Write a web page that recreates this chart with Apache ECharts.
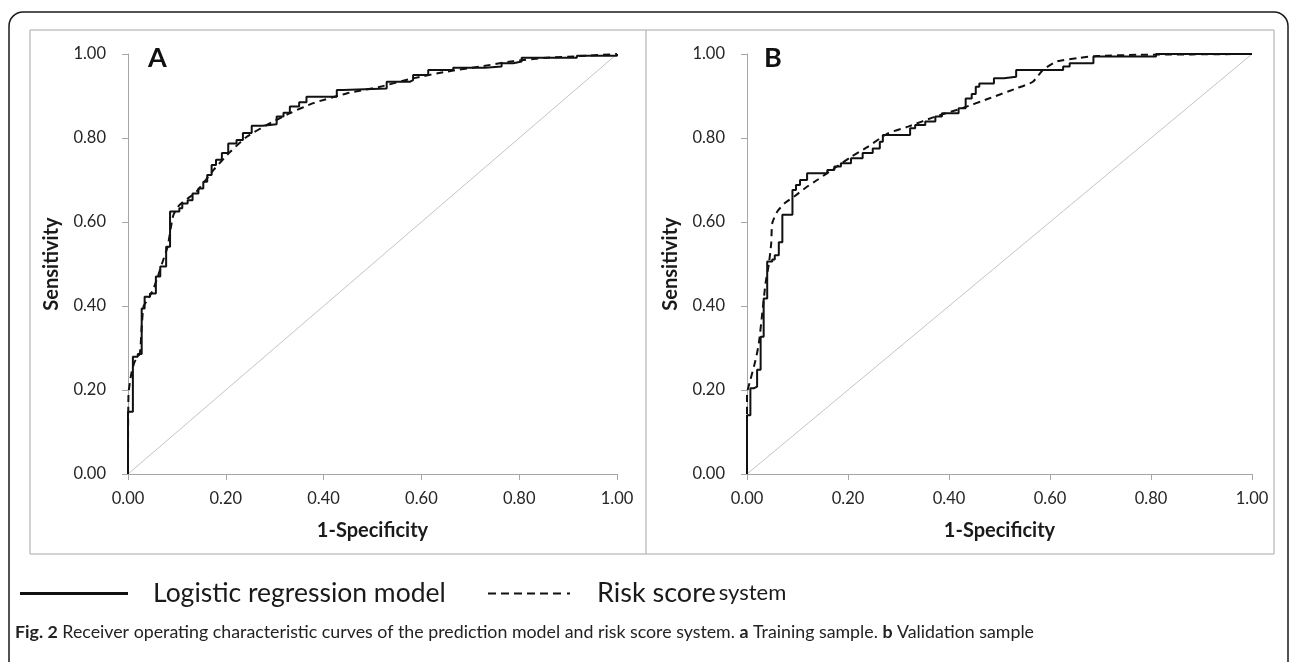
<!DOCTYPE html>
<html lang="en">
<head>
<meta charset="UTF-8">
<title>ROC curves</title>
<style>
    html, body { margin: 0; padding: 0; background: #ffffff; }
    #chart { width: 1295px; height: 662px; }
</style>
</head>
<body>
<div id="chart"></div>
<script src="https://cdn.jsdelivr.net/npm/echarts@6/dist/echarts.min.js"></script>
<script>
    // tick labels for both axes
    var tickLabels = ['0.00', '0.20', '0.40', '0.60', '0.80', '1.00'];

    // panel A (training sample) - logistic regression model, step curve
    var aLogX = [0, 0, 0.010, 0.020, 0.028, 0.034, 0.045, 0.057, 0.066, 0.078, 0.086, 0.105, 0.111, 0.122, 0.132, 0.144, 0.154, 0.162, 0.171, 0.180, 0.192, 0.205, 0.222, 0.235, 0.253, 0.275, 0.304, 0.318, 0.331, 0.350, 0.365, 0.427, 0.440, 0.529, 0.577, 0.583, 0.614, 0.665, 0.730, 0.764, 0.788, 0.805, 0.918, 1.0];
    var aLogY = [0, 0.148, 0.279, 0.286, 0.394, 0.422, 0.430, 0.470, 0.494, 0.541, 0.625, 0.633, 0.644, 0.652, 0.668, 0.680, 0.696, 0.712, 0.736, 0.748, 0.764, 0.787, 0.795, 0.812, 0.829, 0.833, 0.851, 0.860, 0.875, 0.885, 0.898, 0.914, 0.918, 0.934, 0.938, 0.950, 0.962, 0.967, 0.970, 0.978, 0.982, 0.991, 0.996, 1.0];
    // panel A - risk score system
    var aRiskX = [0, 0.001, 0.007, 0.0135, 0.024, 0.028, 0.032, 0.040, 0.051, 0.061, 0.071, 0.081, 0.088, 0.093, 0.105, 0.122, 0.140, 0.175, 0.209, 0.243, 0.284, 0.331, 0.379, 0.447, 0.515, 0.583, 0.652, 0.720, 0.788, 0.856, 0.924, 1.0];
    var aRiskY = [0, 0.19, 0.24, 0.267, 0.287, 0.35, 0.40, 0.414, 0.438, 0.47, 0.506, 0.541, 0.589, 0.617, 0.64, 0.656, 0.672, 0.724, 0.767, 0.803, 0.831, 0.859, 0.883, 0.906, 0.922, 0.942, 0.958, 0.970, 0.983, 0.991, 0.995, 1.0];

    // panel B (validation sample) - logistic regression model
    var bLogX = [0, 0, 0.0067, 0.0133, 0.020, 0.027, 0.033, 0.040, 0.050, 0.055, 0.063, 0.070, 0.090, 0.097, 0.105, 0.119, 0.159, 0.173, 0.186, 0.206, 0.229, 0.249, 0.263, 0.269, 0.323, 0.333, 0.353, 0.373, 0.386, 0.419, 0.433, 0.445, 0.453, 0.460, 0.489, 0.509, 0.533, 0.626, 0.639, 0.686, 0.810, 1.0];
    var bLogY = [0, 0.140, 0.204, 0.208, 0.248, 0.327, 0.418, 0.506, 0.511, 0.521, 0.552, 0.617, 0.676, 0.688, 0.700, 0.716, 0.724, 0.732, 0.740, 0.752, 0.764, 0.775, 0.791, 0.807, 0.823, 0.831, 0.839, 0.851, 0.859, 0.871, 0.894, 0.905, 0.922, 0.930, 0.942, 0.946, 0.962, 0.970, 0.978, 0.994, 1.0, 1.0];
    // panel B - risk score system
    var bRiskX = [0, 0, 0.0067, 0.0167, 0.0233, 0.030, 0.0367, 0.0433, 0.048, 0.050, 0.060, 0.075, 0.095, 0.120, 0.139, 0.173, 0.206, 0.239, 0.279, 0.319, 0.373, 0.426, 0.479, 0.533, 0.566, 0.586, 0.613, 0.659, 0.693, 0.773, 1.0];
    var bRiskY = [0, 0.19, 0.224, 0.27, 0.31, 0.38, 0.454, 0.50, 0.55, 0.597, 0.625, 0.645, 0.662, 0.685, 0.70, 0.728, 0.755, 0.779, 0.811, 0.827, 0.851, 0.871, 0.894, 0.918, 0.934, 0.962, 0.982, 0.991, 0.995, 0.998, 1.0];

    // chance line
    var diagX = [0, 1];
    var diagY = [0, 1];

    function pairs(xs, ys) {
        var out = [];
        for (var i = 0; i < xs.length; i++) out.push([xs[i], ys[i]]);
        return out;
    }

    var font = 'Lato';
    var axisGray = '#a6a6a6';

    function tickText(v) { return tickLabels[Math.round(v / 0.2)]; }

    function xAxisFor(idx) {
        return {
            type: 'value', gridIndex: idx, min: 0, max: 1, interval: 0.2,
            name: '1-Specificity', nameLocation: 'middle', nameGap: 47,
            nameTextStyle: { fontSize: 20, fontWeight: 'bold', fontFamily: font, color: '#1a1a1a' },
            axisLine: { show: true, lineStyle: { color: axisGray, width: 1 } },
            axisTick: { show: true, length: 6, lineStyle: { color: axisGray } },
            splitLine: { show: false },
            axisLabel: { margin: 16, fontSize: 16.5, fontFamily: font, color: '#262626', formatter: tickText }
        };
    }
    function yAxisFor(idx) {
        return {
            type: 'value', gridIndex: idx, min: 0, max: 1, interval: 0.2,
            name: 'Sensitivity', nameLocation: 'middle', nameGap: 66, nameRotate: 90,
            nameTextStyle: { fontSize: 20, fontWeight: 'bold', fontFamily: font, color: '#1a1a1a' },
            axisLine: { show: true, lineStyle: { color: axisGray, width: 1 } },
            axisTick: { show: true, length: 6, lineStyle: { color: axisGray } },
            splitLine: { show: false },
            axisLabel: { margin: 22, fontSize: 16.5, fontFamily: font, color: '#262626', formatter: tickText }
        };
    }

    function logSeries(idx, data) {
        return {
            name: 'Logistic regression model', type: 'line', xAxisIndex: idx, yAxisIndex: idx,
            data: data, step: 'end', symbol: 'none', showSymbol: false, z: 4,
            lineStyle: { color: '#111', width: 2 }, itemStyle: { color: '#111' }
        };
    }
    function riskSeries(idx, data) {
        return {
            name: 'Risk score system', type: 'line', xAxisIndex: idx, yAxisIndex: idx,
            data: data, smooth: 0.2, symbol: 'none', showSymbol: false, z: 3,
            lineStyle: { color: '#111', width: 2, type: [7, 5] }, itemStyle: { color: '#111' }
        };
    }
    function diagSeries(idx) {
        return {
            name: 'chance', type: 'line', xAxisIndex: idx, yAxisIndex: idx,
            data: pairs(diagX, diagY), symbol: 'none', silent: true, z: 2,
            lineStyle: { color: '#c4c4c4', width: 1 }
        };
    }

    var chart = echarts.init(document.getElementById('chart'));
    chart.setOption({
        backgroundColor: '#ffffff',
        animation: false,
        grid: [
            { left: 128, top: 54, width: 489, height: 420 },
            { left: 747, top: 54, width: 505, height: 420 }
        ],
        xAxis: [xAxisFor(0), xAxisFor(1)],
        yAxis: [yAxisFor(0), yAxisFor(1)],
        legend: [
            {
                left: 15, top: 575, itemWidth: 108, itemHeight: 3, selectedMode: false,
                icon: 'path://M0,0H108V3H0Z',
                data: ['Logistic regression model'],
                textStyle: { fontSize: 26.5, fontFamily: font, color: '#1a1a1a', padding: [0, 0, 0, 20] }
            },
            {
                left: 483, top: 575, itemWidth: 82, itemHeight: 2, selectedMode: false,
                icon: 'path://M0,0H8V2H0Z M13,0H21V2H13Z M26,0H34V2H26Z M39,0H47V2H39Z M52,0H60V2H52Z M65,0H73V2H65Z M79,0H82V2H79Z',
                data: ['Risk score system'],
                formatter: function () { return '{a|Risk score} {b|system}'; },
                textStyle: {
                    fontFamily: font, color: '#1a1a1a', padding: [0, 0, 0, 22],
                    rich: {
                        a: { fontSize: 27, fontFamily: font, color: '#1a1a1a', verticalAlign: 'bottom', lineHeight: 27 },
                        b: { fontSize: 22, fontFamily: font, color: '#1a1a1a', verticalAlign: 'bottom', lineHeight: 22, padding: [0, 0, 3, 0] }
                    }
                }
            }
        ],
        graphic: [
            { type: 'rect', z: -1, shape: { x: 9, y: 12, width: 1279, height: 700, r: 14 }, style: { fill: 'none', stroke: '#1a1a1a', lineWidth: 1.5 } },
            { type: 'rect', z: -1, shape: { x: 30, y: 30, width: 1244, height: 524 }, style: { fill: 'none', stroke: '#a6a6a6', lineWidth: 1 } },
            { type: 'line', z: -1, shape: { x1: 646, y1: 30, x2: 646, y2: 554 }, style: { stroke: '#a6a6a6', lineWidth: 1 } },
            { type: 'text', left: 148, top: 45, style: { text: 'A', font: 'bold 27px Lato', fill: '#111' } },
            { type: 'text', left: 764, top: 45, style: { text: 'B', font: 'bold 27px Lato', fill: '#111' } },
            {
                type: 'text', left: 15, top: 623,
                style: {
                    text: '{b|Fig. 2} Receiver operating characteristic curves of the prediction model and risk score system. {b|a} Training sample. {b|b} Validation sample',
                    font: '17.8px Lato', fill: '#222',
                    rich: { b: { fontWeight: 'bold', fontSize: 17.8, fontFamily: font, fill: '#222' } }
                }
            }
        ],
        series: [
            diagSeries(0), logSeries(0, pairs(aLogX, aLogY)), riskSeries(0, pairs(aRiskX, aRiskY)),
            diagSeries(1), logSeries(1, pairs(bLogX, bLogY)), riskSeries(1, pairs(bRiskX, bRiskY))
        ]
    });
</script>
</body>
</html>
